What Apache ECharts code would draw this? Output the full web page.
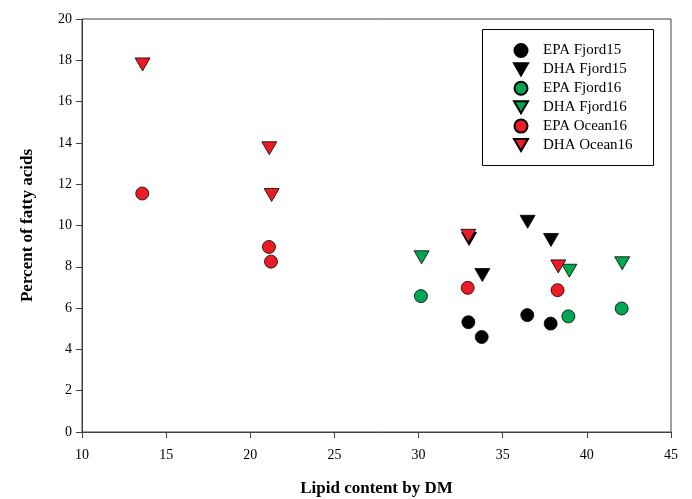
<!DOCTYPE html>
<html>
<head>
<meta charset="utf-8">
<script src="https://cdn.jsdelivr.net/npm/echarts@6/dist/echarts.min.js"></script>
<style>html,body{margin:0;padding:0;background:#fff}#c{width:692px;height:499px}</style>
</head>
<body>
<div id="c"></div>
<script>
const seriesNames = ['EPA Fjord15','DHA Fjord15','EPA Fjord16','DHA Fjord16','EPA Ocean16','DHA Ocean16'];
const epaFjord15 = [[32.96,5.32],[33.75,4.6],[36.46,5.66],[37.85,5.25]];
const dhaFjord15 = [[33.0,9.35],[33.79,7.6],[36.48,10.18],[37.87,9.3]];
const epaFjord16 = [[30.14,6.58],[38.9,5.6],[42.07,5.98]];
const dhaFjord16 = [[30.18,8.46],[38.96,7.81],[42.1,8.17]];
const epaOcean16 = [[13.58,11.55],[21.11,8.96],[21.23,8.25],[32.92,6.98],[38.26,6.87]];
const dhaOcean16 = [[13.6,17.8],[21.13,13.74],[21.27,11.48],[32.96,9.5],[38.3,8.02]];
const xTicks = [10,15,20,25,30,35,40,45];
const yTicks = [0,2,4,6,8,10,12,14,16,18,20];

const font = 'Liberation Serif';
const datasets = [epaFjord15,dhaFjord15,epaFjord16,dhaFjord16,epaOcean16,dhaOcean16];
const colors = ['#000000','#000000','#00A651','#00A651','#ED1C24','#ED1C24'];
const downTri = 'path://M0,0 L15,0 L7.5,13 Z';
const chart = echarts.init(document.getElementById('c'));
chart.setOption({
  animation:false,
  grid:{left:82,right:21,top:19,bottom:67,show:true,borderColor:'#404040',borderWidth:1,containLabel:false,outerBoundsMode:'none'},
  legend:{
    orient:'vertical', left:508, top:38, itemWidth:14, itemHeight:13, itemGap:3.9,
    data:seriesNames.map((n,i)=>({name:n, icon: i%2===0 ? 'circle' : downTri})),
    textStyle:{fontFamily:font,fontSize:15,color:'#000',padding:[0,0,0,10]}
  },
  graphic:[{type:'rect',shape:{x:482.5,y:29.5,width:171,height:136},style:{fill:'none',stroke:'#000',lineWidth:1},z:10}],
  xAxis:{
    type:'value',min:xTicks[0],max:xTicks[xTicks.length-1],interval:5,
    name:'Lipid content by DM',nameLocation:'middle',nameGap:48,
    nameTextStyle:{fontFamily:font,fontSize:17,fontWeight:'bold',color:'#000'},
    axisLine:{show:true,lineStyle:{color:'#404040',width:1}},
    axisTick:{show:true,inside:false,length:6,lineStyle:{color:'#404040'}},
    axisLabel:{fontFamily:font,fontSize:14,color:'#000',margin:16},
    splitLine:{show:false}
  },
  yAxis:{
    type:'value',min:yTicks[0],max:yTicks[yTicks.length-1],interval:2,
    name:'Percent of fatty acids',nameLocation:'middle',nameGap:46,
    nameTextStyle:{fontFamily:font,fontSize:17,fontWeight:'bold',color:'#000'},
    axisLine:{show:true,lineStyle:{color:'#404040',width:1}},
    axisTick:{show:true,inside:false,length:6,lineStyle:{color:'#404040'}},
    axisLabel:{fontFamily:font,fontSize:14,color:'#000',margin:10},
    splitLine:{show:false}
  },
  series: seriesNames.map((n,i)=>({
    name:n,type:'scatter',data:datasets[i],
    symbol: i%2===0 ? 'circle' : 'triangle',
    symbolRotate: i%2===0 ? 0 : 180,
    symbolSize: i%2===0 ? 13 : [15,13],
    itemStyle:{color:colors[i],borderColor:'#000',borderWidth:0.8,opacity:1}
  }))
});
</script>
</body>
</html>
